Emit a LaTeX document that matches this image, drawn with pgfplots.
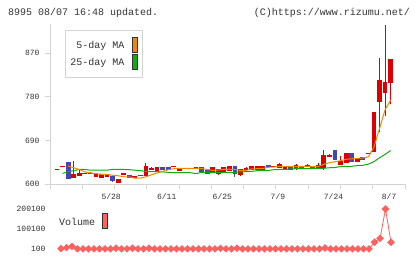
\documentclass[border=0pt]{standalone}
\usepackage{fontspec}
\setmainfont{Liberation Mono}
\setmonofont{Liberation Mono}
\usepackage{pgfplots}
\usepackage{pgfplotstable}
\pgfplotsset{compat=1.18}

\definecolor{upred}{HTML}{DD0000}
\definecolor{dnblue}{HTML}{4444BB}
\definecolor{maf}{HTML}{EE8800}
\definecolor{mat}{HTML}{11AA11}
\definecolor{axgray}{HTML}{D4D4D4}
\definecolor{txt}{HTML}{333333}
\definecolor{vol}{HTML}{FF6060}

% daily candles: index, open, high, low, close
\pgfplotstableread{
i o h l c
0 630 630 630 630
1 636.5 636.5 636.5 636.5
3 613 647.5 613 618.5
4 617 630 617 621
5 622 622 622 622
6 622 625 622 622
7 615 620.6 615 620.6
8 613 619 613 619
9 615 621 615 619
11 603 610 603 610
12 620.6 620.6 620.6 620.6
14 613 616 613 616
15 618 618 618 618
16 618.5 644 618.5 637
17 629 636 629 631.5
18 625 633 625 633
21 637 637 637 637
22 627 632 627 632
23 631.6 631.6 631.6 631.6
24 632 632 632 632
25 633 633 633 633
28 624 633 624 633
29 622 630 619 630
30 625 633 624 633
31 628 635.5 628 635.5
33 619 630 617 630
34 629 636 629 632
35 629.5 635 629.5 635
36 629.5 635 629.5 635
37 630 637 630 637
39 637 637 637 637
40 634 644 634 640
41 631.5 633 631.5 633
43 631.6 641 629 637.8
45 637.8 641 635 637.8
47 633.6 642.7 633.6 639
48 635 670 629 657.8
49 657.8 662 655 657.8
51 640 657.8 640 646.8
52 644 662 644 662
54 646 653.7 646 651.6
56 662 662 662 662
57 668 746.5 665 746.5
58 770 860 708 812.6
59 788.5 928 740 808.5
60 809 856 764 856
}\upc

\pgfplotstableread{
i o h l c
2 645 645 611 611
10 615 615 605 607
13 618 618 612 614
19 633 633 629 629
20 633 633 629 629
26 633 633 625 625
27 627.5 627.5 622 622
32 636 636 614 622
38 637.5 637.5 637 637
42 636 636 630.5 630.5
44 637 637 634 634
46 637 637 632.5 632.5
50 668 668 650 651
53 662 662 646 646
55 653.7 653.7 650 650
}\dnc

% 5-day MA
\pgfplotstableread{
i v
2 637
3 633.6
4 630
5 625
6 622.7
7 621.5
8 620
9 620
10 618
11 617
12 615
13 614.5
14 612
15 612
16 615
17 619
18 622.7
19 626
20 629.4
21 631.5
22 632.4
23 632.4
24 632.4
25 632.4
26 631.6
27 630
28 628
29 629
30 630
31 630.5
32 630
33 628
34 628
35 631
36 631.6
37 632
38 634.5
39 635
40 636.4
41 636.4
42 636
43 636
44 636
45 636.4
46 636
47 636
48 640.6
49 644
50 646
51 648
52 651
53 652
54 653
55 653.5
56 656
57 676
58 714
59 753
60 773
}\maf

% 25-day MA
\pgfplotstableread{
i v
1 622
2 625
3 627.5
4 630
5 630
6 628.5
7 628.5
8 628.5
9 628.5
10 630
11 630
12 630
13 629.5
14 628.5
15 627.5
16 626
17 625.5
18 625.4
19 625
20 624
21 623.5
22 623.3
23 623.3
24 623.3
25 621.5
26 624
27 624
28 623.5
29 623.5
30 624
31 624
32 624
33 625
34 625.4
35 626
36 627.5
37 627.5
38 628
39 629.5
40 630
41 630
42 631
43 631.6
44 631.6
45 631.6
46 632
47 632.4
48 632.4
49 633.5
50 634
51 636
52 636.5
53 636.5
54 638
55 638.6
56 641
57 646
58 654
59 661
60 669
}\mat

% volume
\pgfplotstableread{
i v
0 2000
1 7000
2 13000
3 500
4 500
5 500
6 500
7 500
8 500
9 500
10 4000
11 500
12 500
13 4000
14 500
15 500
16 4000
17 500
18 500
19 500
20 500
21 500
22 500
23 500
24 500
25 500
26 500
27 500
28 500
29 3000
30 500
31 500
32 4000
33 500
34 500
35 500
36 500
37 500
38 500
39 500
40 500
41 500
42 500
43 500
44 500
45 500
46 500
47 500
48 5000
49 500
50 500
51 500
52 500
53 500
54 500
55 500
56 500
57 34000
58 53500
59 200000
60 33500
}\volt

\begin{document}
\begin{tikzpicture}
\path (0bp,0bp) rectangle (420bp,259bp);

\begin{axis}[
  at={(50bp,75bp)}, anchor=south west, scale only axis,
  width=355bp, height=159.5bp,
  xmin=-1.26, xmax=62.59, ymin=600, ymax=929,
  axis x line*=bottom, axis y line*=left,
  axis line style={axgray, line width=1bp},
  tick style={axgray, line width=1bp},
  tick align=outside, major tick length=5bp,
  xtick={-1.26,4.55,10.34,16.15,21.96,27.77,33.56,39.37,45.18,50.99,56.78,62.59},
  xticklabels={,,,,,,,,,,,},
  extra x ticks={10,20,30,40,50,60},
  extra x tick labels={5/28,6/11,6/25,7/9,7/24,8/7},
  extra x tick style={major tick length=0pt, tick style={draw=none},
    xticklabel style={xshift=-1.5bp, yshift=-6.5bp}},
  ytick={600,690,780,870},
  /pgf/number format/assume math mode=true,
  ticklabel style={font=\fontsize{8bp}{9bp}\selectfont, text=txt},
  yticklabel style={xshift=-2bp},
]
% wicks
\addplot[upred, line width=1bp, mark=none, quiver={u=0, v=\thisrow{h}-\thisrow{l}}]
  table[x=i, y=l] {\upc};
\addplot[dnblue, line width=1bp, mark=none, quiver={u=0, v=\thisrow{h}-\thisrow{l}}]
  table[x=i, y=l] {\dnc};
% bodies
\addplot[upred, line width=4.8bp, mark=none, quiver={u=0, v=abs(\thisrow{c}-\thisrow{o})+2.2}]
  table[x=i, y expr={min(\thisrow{o},\thisrow{c})-1.1}] {\upc};
\addplot[dnblue, line width=4.8bp, mark=none, quiver={u=0, v=abs(\thisrow{c}-\thisrow{o})+2.2}]
  table[x=i, y expr={min(\thisrow{o},\thisrow{c})-1.1}] {\dnc};
% moving averages
\addplot[mat, line width=1bp, mark=none] table[x=i, y=v] {\mat};
\addplot[maf, line width=1bp, mark=none] table[x=i, y=v] {\maf};
\end{axis}

\begin{axis}[
  at={(50bp,5bp)}, anchor=south west, scale only axis,
  width=355bp, height=49bp,
  xmin=-2, xmax=62.545, ymin=-24900, ymax=220100,
  axis line style={draw=none}, tick style={draw=none},
  xtick=\empty,
  scaled y ticks=false,
  ytick={100,100100,200100},
  yticklabels={100,100100,200100},
  ticklabel style={font=\fontsize{8bp}{9bp}\selectfont, text=txt},
  yticklabel style={xshift=-1bp},
  clip=false,
]
\addplot[vol, line width=0.8bp, mark=square*, mark size=2.3bp,
  mark options={rotate=45, fill=vol, draw=vol}] table[x=i, y=v] {\volt};
\end{axis}

% header
\node[anchor=west, text=txt, font=\fontsize{10bp}{12bp}\selectfont, inner sep=0] at (8bp,245.7bp) {8995 08/07 16:48 updated.};
\node[anchor=east, text=txt, font=\fontsize{10bp}{12bp}\selectfont, inner sep=0] at (410bp,245.7bp) {(C)https://www.rizumu.net/};

% price legend
\draw[axgray, fill=white, line width=0.8bp] (65.3bp,229bp) rectangle (142bp,182bp);
\node[anchor=east, text=txt, font=\fontsize{10bp}{12bp}\selectfont, inner sep=0] at (124.5bp,213bp) {5-day MA};
\node[anchor=east, text=txt, font=\fontsize{10bp}{12bp}\selectfont, inner sep=0] at (124.5bp,195.7bp) {25-day MA};
\draw[fill=maf, draw=txt, line width=0.7bp] (132bp,222bp) rectangle (137.5bp,207bp);
\draw[fill=mat, draw=txt, line width=0.7bp] (132bp,205bp) rectangle (137.5bp,190bp);

% volume legend
\node[anchor=west, text=txt, font=\fontsize{10bp}{12bp}\selectfont, inner sep=0] at (59bp,37bp) {Volume};
\draw[fill=vol, draw=txt, line width=0.7bp] (102bp,46bp) rectangle (107.5bp,31bp);
\end{tikzpicture}
\end{document}
